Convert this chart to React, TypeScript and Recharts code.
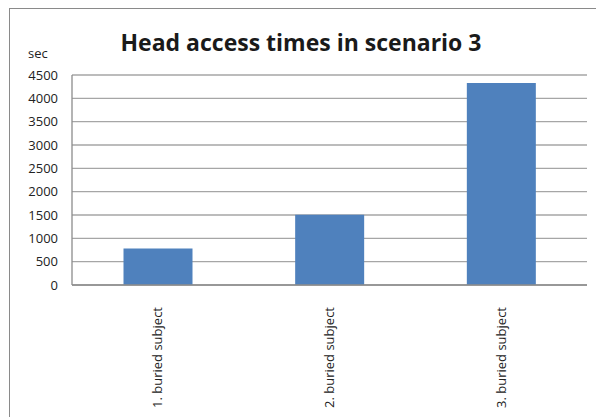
import React from 'react';
import { BarChart, Bar, XAxis, YAxis, CartesianGrid } from 'recharts';

const categories = ['1. buried subject', '2. buried subject', '3. buried subject'];
const values = [780, 1505, 4330];
const yTicks = [0, 500, 1000, 1500, 2000, 2500, 3000, 3500, 4000, 4500];
const title = 'Head access times in scenario 3';
const unitLabel = 'sec';

const data = categories.map((c, i) => ({ name: c, value: values[i] }));

const FONT = '"Open Sans", sans-serif';

const XTick = (props: any) => {
  const { x, y, payload } = props;
  return (
    <text
      x={0}
      y={0}
      transform={`translate(${x + 4.5},${y + 14}) rotate(-90)`}
      textAnchor="end"
      fontFamily={FONT}
      fontSize={13}
      fill="#222"
    >
      {payload.value}
    </text>
  );
};

export default function App() {
  return (
    <div
      style={{
        position: 'absolute',
        left: 0,
        top: 0,
        width: 596,
        height: 417,
        background: '#fff',
        overflow: 'hidden',
      }}
    >
      <div
        style={{
          position: 'absolute',
          left: 9,
          top: 8,
          width: 600,
          height: 420,
          borderTop: '1.5px solid #8a8a8a',
          borderLeft: '1.5px solid #8a8a8a',
        }}
      />
      <div
        style={{
          position: 'absolute',
          left: 0,
          width: 596,
          top: 26,
          textAlign: 'center',
          fontFamily: FONT,
          fontWeight: 700,
          fontSize: 23,
          color: '#1a1a1a',
          lineHeight: '32px',
          paddingLeft: 3,
        }}
      >
        {title}
      </div>
      <div
        style={{
          position: 'absolute',
          left: 28,
          top: 45,
          fontFamily: FONT,
          fontSize: 13,
          color: '#222',
          lineHeight: '16px',
        }}
      >
        {unitLabel}
      </div>
      <div style={{ position: 'absolute', left: 0, top: 0 }}>
        <BarChart
          width={596}
          height={417}
          data={data}
          margin={{ top: 75, right: 9, bottom: 0, left: 8 }}
          barCategoryGap="30%"
        >
          <CartesianGrid vertical={false} stroke="#a6a6a6" strokeWidth={1.3} />
          <XAxis
            dataKey="name"
            tickLine={false}
            axisLine={{ stroke: '#8c8c8c', strokeWidth: 1.3 }}
            interval={0}
            tick={<XTick />}
            height={132}
          />
          <YAxis
            width={64}
            domain={[0, 4500]}
            ticks={yTicks}
            interval={0}
            tickLine={false}
            tickSize={0}
            tickMargin={14}
            axisLine={{ stroke: '#8c8c8c', strokeWidth: 1.3 }}
            tick={{ fontFamily: FONT, fontSize: 13, fill: '#222' }}
          />
          <Bar dataKey="value" fill="#4f81bd" isAnimationActive={false} />
        </BarChart>
      </div>
    </div>
  );
}
